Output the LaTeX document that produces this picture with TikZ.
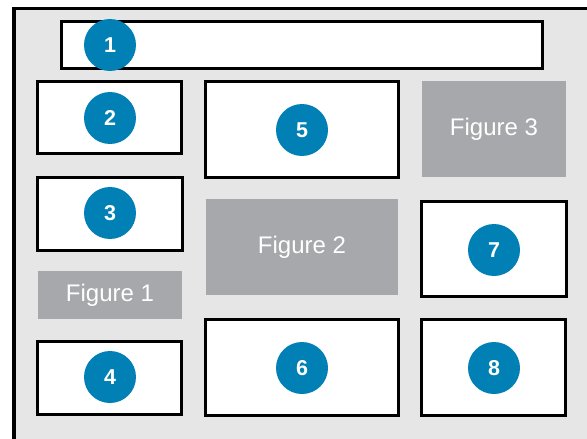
\documentclass[tikz,border=0pt]{standalone}
\usepackage{fontspec}
\setmainfont{Liberation Sans}
\definecolor{bgray}{HTML}{E6E6E6}
\definecolor{figgray}{HTML}{A7A8AB}
\definecolor{badge}{HTML}{0080B4}
\begin{document}
\begin{tikzpicture}[x=1pt,y=-1pt,
  panel/.style={draw=black,line width=2.5pt,fill=white,inner sep=0pt},
  figbox/.style={fill=figgray,inner sep=0pt,text=white,font=\fontsize{24}{28}\selectfont},
  numbadge/.style={circle,fill=badge,minimum size=52pt,inner sep=0pt,text=white,font=\bfseries\fontsize{21.5}{24}\selectfont}]
\useasboundingbox (0,0) rectangle (587,439);
\fill[white] (0,0) rectangle (587,439);
\fill[bgray] (14,8.5) rectangle (600,450);
\draw[line width=3pt] (14,8.5) -- (600,8.5);
\draw[line width=4pt] (14,7) -- (14,450);
% panels
\node[panel,minimum width=481pt,minimum height=47pt] (p1) at (302,45) {};
\node[panel,minimum width=144pt,minimum height=72pt] (p2) at (109.5,117.5) {};
\node[panel,minimum width=145pt,minimum height=73pt] (p3) at (110,214) {};
\node[panel,minimum width=144pt,minimum height=73pt] (p4) at (109.5,378) {};
\node[panel,minimum width=193pt,minimum height=96pt] (p5) at (302,129.5) {};
\node[panel,minimum width=193pt,minimum height=96pt] (p6) at (302,367.5) {};
\node[panel,minimum width=145pt,minimum height=95pt] (p7) at (494,249) {};
\node[panel,minimum width=144pt,minimum height=96pt] (p8) at (493.5,367.5) {};
% figures
\node[figbox,minimum width=144pt,minimum height=48pt] (f1) at (110,295) {Figure 1};
\node[figbox,minimum width=192pt,minimum height=96pt] (f2) at (302,247) {Figure 2};
\node[figbox,minimum width=144pt,minimum height=96pt] (f3) at (494,129) {Figure 3};
% badges
\node[numbadge] (b1) at (110,45) {1};
\node[numbadge] (b2) at (110,118) {2};
\node[numbadge] (b3) at (110,213) {3};
\node[numbadge] (b4) at (110,377) {4};
\node[numbadge] (b5) at (302,130) {5};
\node[numbadge] (b6) at (302,368) {6};
\node[numbadge] (b7) at (494,250) {7};
\node[numbadge] (b8) at (494,368) {8};
\end{tikzpicture}
\end{document}
